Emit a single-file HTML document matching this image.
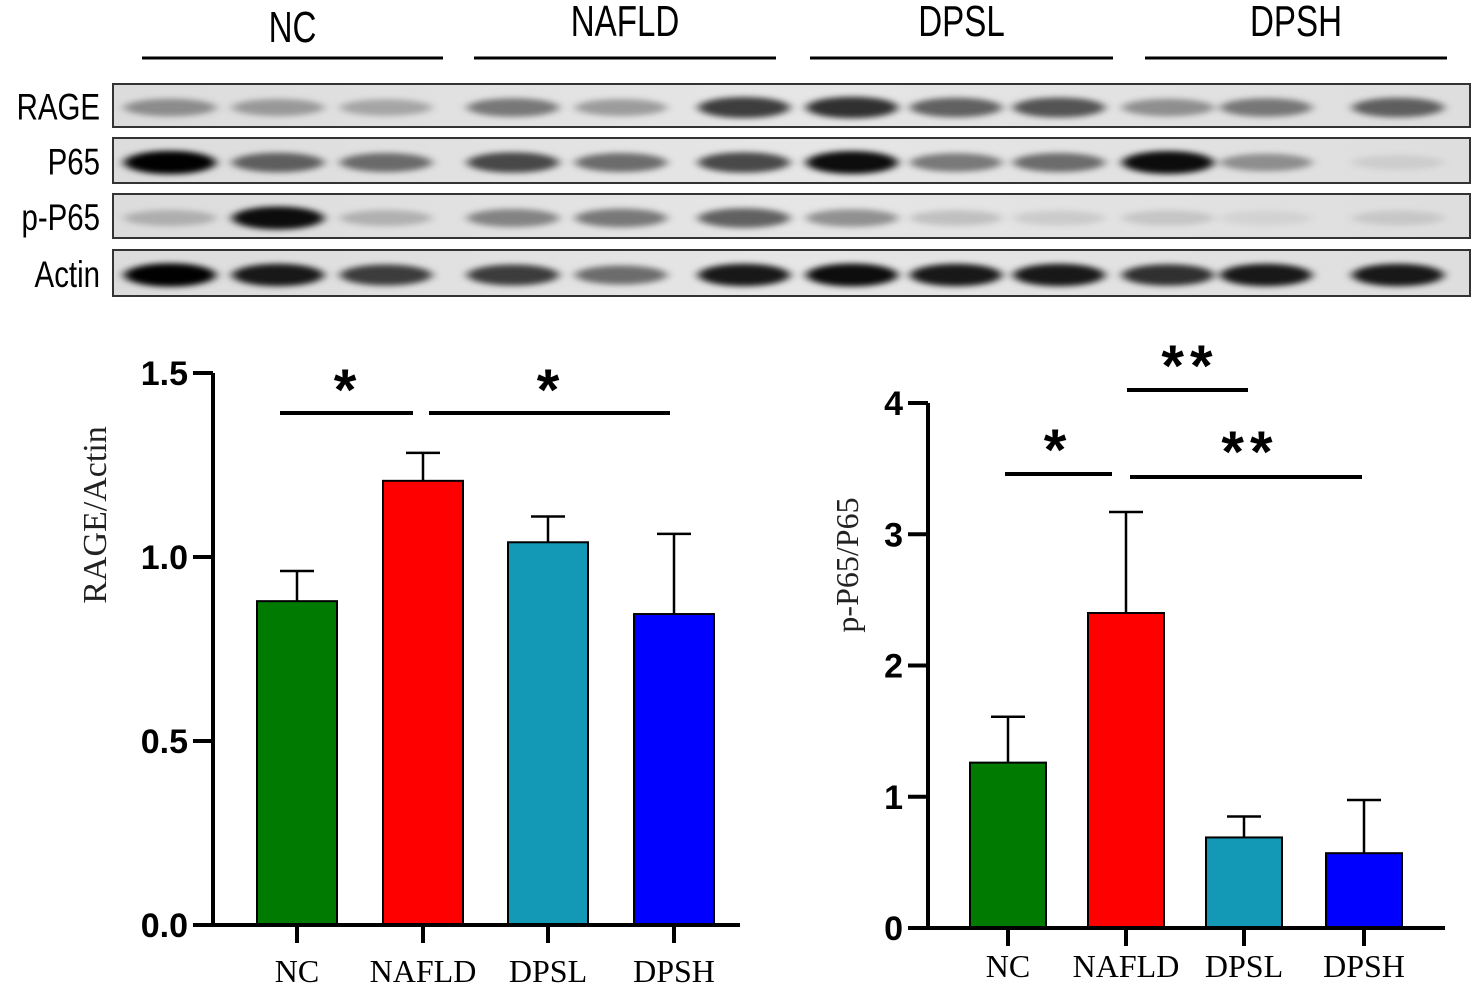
<!DOCTYPE html>
<html><head><meta charset="utf-8"><style>
html,body{margin:0;padding:0;background:#fff;width:1476px;height:987px;overflow:hidden}
svg{display:block}
.blot{font-family:"Liberation Sans Narrow","Liberation Sans",sans-serif}
.tick{font-family:"Liberation Sans",sans-serif;font-weight:bold;font-size:34px}
.cat{font-family:"Liberation Serif",serif;font-size:32px}
.star{font-family:"Liberation Sans",sans-serif;font-weight:bold;font-size:58px}
</style></head><body>
<svg id="fig" width="1476" height="987" viewBox="0 0 1476 987" xmlns="http://www.w3.org/2000/svg">
<defs>
<filter id="blur" x="-50%" y="-100%" width="200%" height="300%"><feGaussianBlur stdDeviation="5 3"/></filter>
<linearGradient id="bg" x1="0" x2="1"><stop offset="0" stop-color="#dcdcdc"/><stop offset="0.5" stop-color="#e6e6e6"/><stop offset="1" stop-color="#dedede"/></linearGradient>
</defs>
<g id="blot"></g>
<g id="chart1"></g>
<g id="chart2"></g>
</svg>
<script>
const NS="http://www.w3.org/2000/svg";
const categories=["NC","NAFLD","DPSL","DPSH"];
const rageMeans=[0.88,1.207,1.04,0.845];
const rageErrs=[0.082,0.076,0.07,0.218];
const pMeans=[1.26,2.4,0.69,0.57];
const pErrs=[0.35,0.77,0.16,0.405];
const colors=["#007a00","#ff0000","#1399b5","#0000ff"];
const rageTicks=["0.0","0.5","1.0","1.5"];
const rageTickVals=[0,0.5,1.0,1.5];
const pTicks=["0","1","2","3","4"];
const pTickVals=[0,1,2,3,4];
const blotRows=["RAGE","P65","p-P65","Actin"];
const ragBand=[0.35,0.3,0.25,0.45,0.3,0.7,0.75,0.55,0.6,0.35,0.45,0.55];
const p65Band=[0.95,0.55,0.5,0.65,0.5,0.65,0.9,0.45,0.5,0.9,0.35,0.08];
const pp65Band=[0.2,0.9,0.2,0.4,0.45,0.55,0.35,0.15,0.1,0.12,0.06,0.1];
const actinBand=[0.95,0.85,0.7,0.7,0.5,0.85,0.9,0.85,0.85,0.75,0.85,0.85];

function el(tag,attrs,parent,text){const e=document.createElementNS(NS,tag);for(const k in attrs)e.setAttribute(k,attrs[k]);if(text!==undefined)e.textContent=text;parent.appendChild(e);return e;}

const blot=document.getElementById('blot');
const groupX=[[142,443],[474,776],[810,1113],[1145,1447]];
categories.forEach((c,i)=>{
  const cx=(groupX[i][0]+groupX[i][1])/2;
  const t=el('text',{x:0,y:0,transform:`translate(${cx},${i==0?42:36}) scale(0.92,1.2)`,'text-anchor':'middle','font-size':36,class:'blot'},blot,c);
  
  
  const l=el('line',{x1:groupX[i][0],x2:groupX[i][1],y1:58,y2:58,stroke:'#000','stroke-width':3},blot);
  
  
});
const rowsY=[[84,127],[138,183],[194,238],[250,296]];
const laneX=[170,278,386,513,621,744,852,956,1059,1168,1266,1398];
const bands=[ragBand,p65Band,pp65Band,actinBand];
rowsY.forEach((r,ri)=>{
  const lab=el('text',{x:0,y:0,transform:`translate(100,${(r[0]+r[1])/2+14}) scale(0.95,1.2)`,'text-anchor':'end','font-size':31,class:'blot'},blot,blotRows[ri]);
  
  
  const box=el('rect',{x:113,y:r[0],width:1357,height:r[1]-r[0],fill:'url(#bg)',stroke:'#333','stroke-width':2},blot);
  
  
  const cy=(r[0]+r[1])/2+2;
  bands[ri].forEach((v,li)=>{
    const b=el('ellipse',{cx:laneX[li],cy:cy,rx:46,ry:7+v*5,fill:'#000','fill-opacity':Math.min(1,v*1.05),filter:'url(#blur)'},blot);
    
    
  });
});

function drawChart(g,cfg){
  const y=v=>cfg.y0-(v-0)*(cfg.y0-cfg.yTop)/cfg.max;
  const yt=el('text',{transform:`translate(${cfg.titleX},${cfg.titleY}) rotate(-90)`,'text-anchor':'middle','font-family':'Liberation Serif, serif','font-size':cfg.titleSize,fill:'#222'},g,cfg.title);
  
  
  cfg.means.forEach((m,i)=>{
    const cx=cfg.xs[i];
    const top=y(m+cfg.errs[i]);
    const e=el('path',{d:`M${cx},${y(m)} V${top} M${cx-17},${top} H${cx+17}`,stroke:'#000','stroke-width':2.5,fill:'none'},g);
    
    
    const b=el('rect',{x:cx-cfg.bw/2,y:y(m),width:cfg.bw,height:cfg.y0-y(m),fill:colors[i],stroke:'#000','stroke-width':2},g);
    
    
    const tk=el('line',{x1:cx,x2:cx,y1:cfg.y0,y2:cfg.y0+18,stroke:'#000','stroke-width':4},g);
    
    
    const lb=el('text',{x:cx,y:cfg.catY,'text-anchor':'middle',class:'cat'},g,categories[i]);
    
    
  });
  cfg.tickVals.forEach((v,i)=>{
    const tk=el('line',{x1:cfg.x0-20,x2:cfg.x0,y1:y(v),y2:y(v),stroke:'#000','stroke-width':4},g);
    
    
    const lb=el('text',{x:cfg.x0-25,y:y(v)+12,'text-anchor':'end',class:'tick'},g,cfg.ticks[i]);
    
    
  });
  const ax=el('path',{d:`M${cfg.x0},${cfg.yTop} V${cfg.y0} H${cfg.xEnd}`,stroke:'#000','stroke-width':4,fill:'none'},g);
  
  
  cfg.sig.forEach(s=>{
    const l=el('line',{x1:s[0],x2:s[1],y1:s[2],y2:s[2],stroke:'#000','stroke-width':4},g);
    
    
    const t=el('text',{x:s[3],y:s[4],'text-anchor':'middle',class:'star','letter-spacing':6},g,s[5]);
    
    
  });
}
drawChart(document.getElementById('chart1'),{x0:213,y0:925,yTop:373,max:1.5,xEnd:740,xs:[297,423,548,674],bw:80,means:rageMeans,errs:rageErrs,ticks:rageTicks,tickVals:rageTickVals,catY:982,title:'RAGE/Actin',titleX:106,titleY:515,titleSize:34,
  sig:[[280,413,413,348,410,'*'],[429,670,413,551,410,'*']]});
drawChart(document.getElementById('chart2'),{x0:928,y0:928,yTop:403,max:4,xEnd:1445,xs:[1008,1126,1244,1364],bw:76,means:pMeans,errs:pErrs,ticks:pTicks,tickVals:pTickVals,catY:977,title:'p-P65/P65',titleX:858,titleY:565,titleSize:32,
  sig:[[1005,1112,474,1058,470,'*'],[1130,1362,477,1250,472,'**'],[1127,1248,390,1190,386,'**']]});
</script>
</body></html>
